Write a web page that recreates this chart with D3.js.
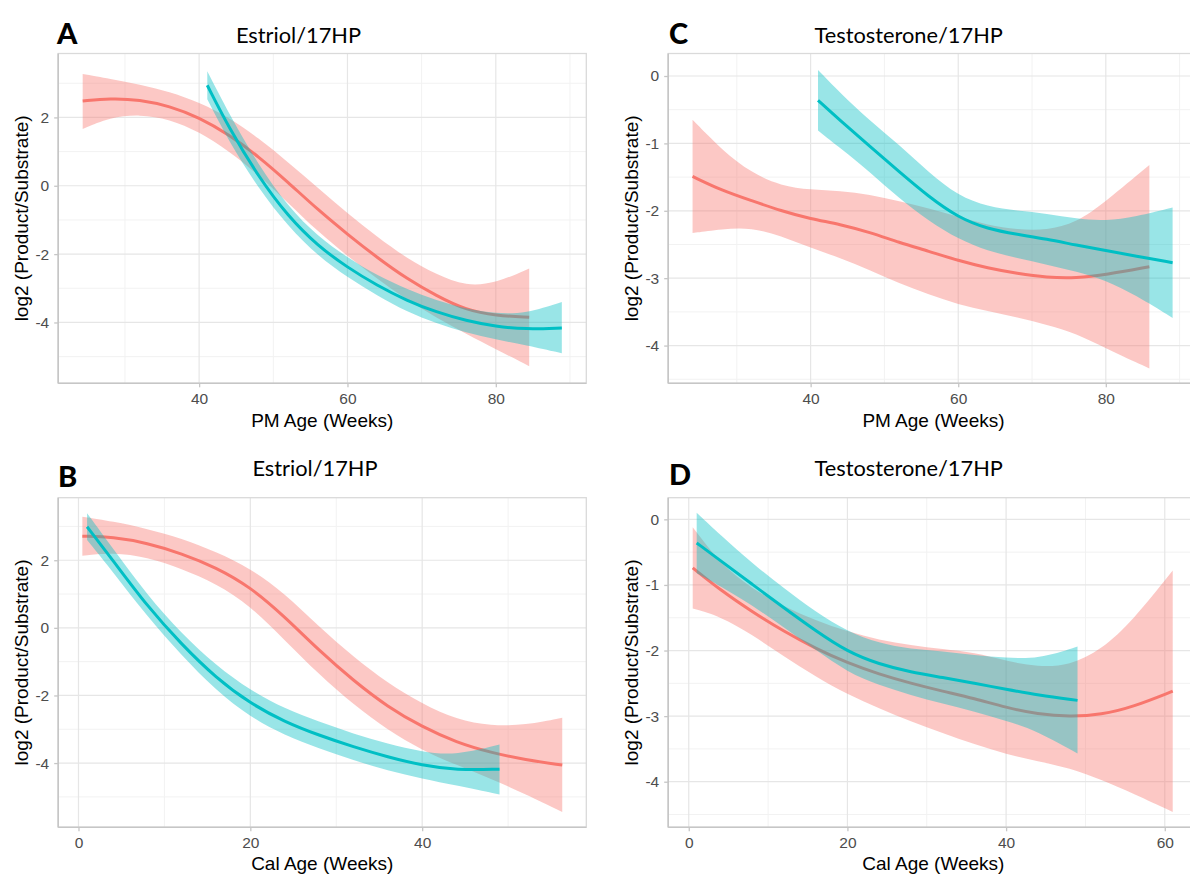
<!DOCTYPE html>
<html>
<head>
<meta charset="utf-8">
<script src="https://cdn.jsdelivr.net/npm/d3@7"></script>
<style>
	body { margin: 0; background: #ffffff; }
	svg { display: block; }
</style>
</head>
<body>
<div id="chart"></div>
<script>

// ---- panel A : Estriol/17HP vs PM age
const aRedX  = [24.3, 28, 32, 36, 40, 44, 48, 52, 56, 60, 64, 68, 72, 76, 80, 84.5];
const aRedY  = [2.48, 2.56, 2.52, 2.33, 2.0, 1.5, 0.86, 0.1, -0.7, -1.42, -2.1, -2.72, -3.22, -3.64, -3.8, -3.85];
const aRedHi = [3.27, 3.13, 2.96, 2.75, 2.44, 2.0, 1.4, 0.69, -0.06, -0.8, -1.5, -2.12, -2.6, -2.94, -2.85, -2.42];
const aRedLo = [1.66, 2.0, 2.09, 1.95, 1.58, 1.02, 0.32, -0.5, -1.34, -2.06, -2.72, -3.34, -3.86, -4.34, -4.78, -5.28];

const aTealX  = [41.1, 44, 48, 52, 56, 60, 64, 68, 72, 76, 80, 84, 88.9];
const aTealY  = [2.94, 1.7, 0.26, -0.9, -1.76, -2.39, -2.92, -3.36, -3.7, -3.95, -4.12, -4.2, -4.16];
const aTealHi = [3.35, 2.12, 0.6, -0.61, -1.48, -2.1, -2.63, -3.02, -3.36, -3.6, -3.74, -3.74, -3.4];
const aTealLo = [2.53, 1.3, -0.08, -1.19, -2.05, -2.68, -3.21, -3.69, -4.03, -4.3, -4.5, -4.66, -4.9];

// ---- panel B : Estriol/17HP vs Cal age
const bRedX  = [0.45, 4, 8, 12, 16, 20, 24, 28, 32, 36, 40, 44, 48, 52, 56.3];
const bRedY  = [2.71, 2.69, 2.51, 2.2, 1.79, 1.21, 0.33, -0.67, -1.56, -2.34, -2.93, -3.39, -3.69, -3.9, -4.06];
const bRedHi = [3.29, 3.15, 2.93, 2.65, 2.25, 1.76, 1.02, 0.03, -0.86, -1.64, -2.24, -2.72, -2.9, -2.88, -2.66];
const bRedLo = [2.13, 2.23, 2.09, 1.75, 1.31, 0.66, -0.37, -1.38, -2.27, -3.03, -3.62, -4.06, -4.46, -4.92, -5.45];

const bTealX  = [1, 4, 8, 12, 16, 20, 24, 28, 32, 36, 40, 44, 49];
const bTealY  = [2.99, 2.0, 0.64, -0.49, -1.48, -2.24, -2.78, -3.18, -3.52, -3.82, -4.07, -4.21, -4.18];
const bTealHi = [3.39, 2.35, 0.97, -0.17, -1.11, -1.85, -2.39, -2.78, -3.13, -3.43, -3.67, -3.77, -3.45];
const bTealLo = [2.6, 1.66, 0.33, -0.81, -1.85, -2.64, -3.18, -3.57, -3.92, -4.22, -4.46, -4.66, -4.93];

// ---- panel C : Testosterone/17HP vs PM age
const cRedX  = [24, 28, 32, 36, 40, 44, 48, 52, 56, 60, 64, 68, 72, 76, 80, 85.9];
const cRedY  = [-1.49, -1.7, -1.85, -2.0, -2.12, -2.2, -2.32, -2.47, -2.6, -2.74, -2.85, -2.93, -2.99, -3.0, -2.95, -2.83];
const cRedHi = [-0.65, -1.1, -1.44, -1.63, -1.69, -1.7, -1.76, -1.86, -1.96, -2.09, -2.21, -2.28, -2.29, -2.18, -1.86, -1.32];
const cRedLo = [-2.33, -2.27, -2.25, -2.37, -2.55, -2.7, -2.88, -3.08, -3.24, -3.39, -3.49, -3.58, -3.69, -3.82, -4.04, -4.34];

const cTealX  = [41, 44, 48, 52, 56, 60, 64, 68, 72, 76, 80, 84, 89.05];
const cTealY  = [-0.36, -0.66, -1.04, -1.42, -1.79, -2.1, -2.27, -2.35, -2.42, -2.51, -2.59, -2.67, -2.77];
const cTealHi = [0.09, -0.25, -0.66, -1.02, -1.43, -1.78, -1.94, -2.0, -2.04, -2.12, -2.15, -2.09, -1.95];
const cTealLo = [-0.81, -1.07, -1.42, -1.82, -2.15, -2.42, -2.6, -2.7, -2.8, -2.9, -3.03, -3.25, -3.59];

// ---- panel D : Testosterone/17HP vs Cal age
const dRedX  = [0.5, 4, 8, 12, 16, 20, 24, 28, 32, 36, 40, 44, 48, 52, 56, 61];
const dRedY  = [-0.74, -1.08, -1.41, -1.71, -1.97, -2.19, -2.36, -2.5, -2.62, -2.73, -2.87, -2.97, -3.01, -2.98, -2.86, -2.62];
const dRedHi = [-0.12, -0.68, -1.06, -1.33, -1.54, -1.71, -1.84, -1.92, -1.98, -2.03, -2.16, -2.25, -2.23, -1.99, -1.54, -0.78];
const dRedLo = [-1.36, -1.48, -1.76, -2.09, -2.4, -2.67, -2.88, -3.08, -3.26, -3.43, -3.58, -3.69, -3.79, -3.97, -4.18, -4.46];

const dTealX  = [1, 4, 8, 12, 16, 20, 24, 28, 32, 36, 40, 44, 49];
const dTealY  = [-0.36, -0.63, -0.99, -1.35, -1.7, -2.02, -2.21, -2.33, -2.41, -2.5, -2.59, -2.68, -2.76];
const dTealHi = [0.1, -0.24, -0.67, -1.05, -1.41, -1.71, -1.89, -1.98, -2.01, -2.07, -2.11, -2.13, -1.94];
const dTealLo = [-0.82, -1.02, -1.31, -1.65, -1.99, -2.33, -2.53, -2.68, -2.81, -2.93, -3.07, -3.23, -3.57];

// ---- labels, ticks, axis limits
const letters  = ['A', 'B', 'C', 'D'];
const titles   = ['Estriol/17HP', 'Estriol/17HP', 'Testosterone/17HP', 'Testosterone/17HP'];
const xLabels  = ['PM Age (Weeks)', 'Cal Age (Weeks)', 'PM Age (Weeks)', 'Cal Age (Weeks)'];
const yLabel   = 'log2 (Product/Substrate)';

const xTicksA = [40, 60, 80];
const xTicksB = [0, 20, 40];
const xTicksC = [40, 60, 80];
const xTicksD = [0, 20, 40, 60];
const yTicksA = [2, 0, -2, -4];
const yTicksB = [2, 0, -2, -4];
const yTicksC = [0, -1, -2, -3, -4];
const yTicksD = [0, -1, -2, -3, -4];

const xLimA = [21.0, 92.2];
const xLimB = [-2.36, 59.1];
const xLimC = [20.7, 92.6];
const xLimD = [-2.59, 64.25];
const yLimA = [-5.78, 3.87];
const yLimB = [-5.9, 3.85];
const yLimC = [-4.56, 0.334];
const yLimD = [-4.695, 0.33];

const RED = '#F8766D';
const TEAL = '#00BFC4';

function series(x, y, lo, hi, color)
{
	return { color: color, rows: x.map((d, i) => ({ x: d, y: y[i], lo: lo[i], hi: hi[i] })) };
}

// pixel boxes of the four panels (left, top, right, bottom) and where their texts sit
const panels = [
	{ box: [58.2, 53.5, 586.3, 383.3], titleX: 298.5, titleY: 43, letterX: 57, letterY: 44, yLabX: 28,
		xTicks: xTicksA, yTicks: yTicksA, xLim: xLimA, yLim: yLimA,
		data: [series(aRedX, aRedY, aRedLo, aRedHi, RED), series(aTealX, aTealY, aTealLo, aTealHi, TEAL)] },
	{ box: [58.2, 497.7, 586.3, 827.3], titleX: 315, titleY: 476, letterX: 58, letterY: 487, yLabX: 28,
		xTicks: xTicksB, yTicks: yTicksB, xLim: xLimB, yLim: yLimB,
		data: [series(bRedX, bRedY, bRedLo, bRedHi, RED), series(bTealX, bTealY, bTealLo, bTealHi, TEAL)] },
	{ box: [668.2, 53.5, 1198.8, 383.3], titleX: 908.7, titleY: 43, letterX: 669, letterY: 44, yLabX: 638,
		xTicks: xTicksC, yTicks: yTicksC, xLim: xLimC, yLim: yLimC,
		data: [series(cRedX, cRedY, cRedLo, cRedHi, RED), series(cTealX, cTealY, cTealLo, cTealHi, TEAL)] },
	{ box: [668.2, 497.7, 1198.5, 827.3], titleX: 908.7, titleY: 476, letterX: 669, letterY: 485, yLabX: 638,
		xTicks: xTicksD, yTicks: yTicksD, xLim: xLimD, yLim: yLimD,
		data: [series(dRedX, dRedY, dRedLo, dRedHi, RED), series(dTealX, dTealY, dTealLo, dTealHi, TEAL)] }
];

const svg = d3.select('#chart').append('svg')
	.attr('width', 1190)
	.attr('height', 878);

// midpoints between major breaks, the way ggplot places its minor grid
function minorBreaks(ticks, lim)
{
	let t = ticks.slice().sort((a, b) => a - b);
	let step = t[1] - t[0];
	let out = [];
	for(let v = t[0] - step / 2; v <= t[t.length - 1] + step; v += step)
	{
		if(v >= lim[0] && v <= lim[1])
			out.push(v);
	}
	return out;
}

panels.forEach((p, k) => {
	let [x0, y0, x1, y1] = p.box;

	let x = d3.scaleLinear().domain(p.xLim).range([x0, x1]);
	let y = d3.scaleLinear().domain(p.yLim).range([y1, y0]);

	let g = svg.append('g');

	g.append('clipPath')
		.attr('id', 'clip' + k)
		.append('rect')
		.attr('x', x0)
		.attr('y', y0)
		.attr('width', x1 - x0)
		.attr('height', y1 - y0);

	// minor grid
	g.selectAll('.vminor')
		.data(minorBreaks(p.xTicks, p.xLim))
		.enter()
		.append('line')
		.attr('x1', d => x(d)).attr('x2', d => x(d))
		.attr('y1', y0).attr('y2', y1)
		.attr('stroke', '#f2f2f2')
		.attr('stroke-width', 1);

	g.selectAll('.hminor')
		.data(minorBreaks(p.yTicks, p.yLim))
		.enter()
		.append('line')
		.attr('x1', x0).attr('x2', x1)
		.attr('y1', d => y(d)).attr('y2', d => y(d))
		.attr('stroke', '#f2f2f2')
		.attr('stroke-width', 1);

	// major grid
	g.selectAll('.vmajor')
		.data(p.xTicks)
		.enter()
		.append('line')
		.attr('x1', d => x(d)).attr('x2', d => x(d))
		.attr('y1', y0).attr('y2', y1)
		.attr('stroke', '#e6e6e6')
		.attr('stroke-width', 1.2);

	g.selectAll('.hmajor')
		.data(p.yTicks)
		.enter()
		.append('line')
		.attr('x1', x0).attr('x2', x1)
		.attr('y1', d => y(d)).attr('y2', d => y(d))
		.attr('stroke', '#e6e6e6')
		.attr('stroke-width', 1.2);

	let plot = g.append('g')
		.attr('clip-path', 'url(#clip' + k + ')');

	let area = d3.area()
		.curve(d3.curveBasis)
		.x(d => x(d.x))
		.y0(d => y(d.lo))
		.y1(d => y(d.hi));

	let line = d3.line()
		.curve(d3.curveBasis)
		.x(d => x(d.x))
		.y(d => y(d.y));

	// ribbon then line for each group, same order as geom_smooth
	p.data.forEach(s => {
		plot.append('path')
			.attr('d', area(s.rows))
			.attr('fill', s.color)
			.attr('fill-opacity', 0.4);

		plot.append('path')
			.attr('d', line(s.rows))
			.attr('fill', 'none')
			.attr('stroke', s.color)
			.attr('stroke-width', 3);
	});

	// panel border and axis lines
	g.append('rect')
		.attr('x', x0)
		.attr('y', y0)
		.attr('width', x1 - x0)
		.attr('height', y1 - y0)
		.attr('fill', 'none')
		.attr('stroke', '#dadada')
		.attr('stroke-width', 1.3);

	g.append('line')
		.attr('x1', x0).attr('x2', x0)
		.attr('y1', y0).attr('y2', y1)
		.attr('stroke', '#c6c6c6')
		.attr('stroke-width', 1.6);

	g.append('line')
		.attr('x1', x0).attr('x2', x1)
		.attr('y1', y1).attr('y2', y1)
		.attr('stroke', '#c6c6c6')
		.attr('stroke-width', 1.6);

	// axes
	let xAxis = d3.axisBottom(x)
		.tickValues(p.xTicks)
		.tickSize(4)
		.tickPadding(6)
		.tickFormat(d3.format('d'));

	let yAxis = d3.axisLeft(y)
		.tickValues(p.yTicks)
		.tickSize(4)
		.tickPadding(5)
		.tickFormat(d => d < 0 ? '-' + Math.abs(d) : d);

	let gx = g.append('g')
		.attr('transform', `translate(0, ${y1})`)
		.call(xAxis);

	let gy = g.append('g')
		.attr('transform', `translate(${x0}, 0)`)
		.call(yAxis);

	[gx, gy].forEach(a => {
		a.select('.domain').remove();
		a.selectAll('line')
			.attr('stroke', '#c6c6c6')
			.attr('stroke-width', 1.3);
		a.selectAll('text')
			.attr('fill', '#4d4d4d')
			.style('font-family', '"Liberation Sans", Arial, sans-serif')
			.style('font-size', '15.5px');
	});

	// texts
	g.append('text')
		.attr('x', p.letterX)
		.attr('y', p.letterY)
		.style('font-family', 'Lato, "Open Sans", sans-serif')
		.style('font-weight', 900)
		.style('font-size', '29px')
		.attr('fill', '#000000')
		.text(letters[k]);

	g.append('text')
		.attr('x', p.titleX)
		.attr('y', p.titleY)
		.attr('text-anchor', 'middle')
		.style('font-family', 'Lato, "Open Sans", sans-serif')
		.style('font-size', '21.8px')
		.attr('fill', '#000000')
		.text(titles[k]);

	g.append('text')
		.attr('x', (x0 + x1) / 2)
		.attr('y', k % 2 == 0 ? 426.5 : 870)
		.attr('text-anchor', 'middle')
		.style('font-family', '"Liberation Sans", Arial, sans-serif')
		.style('font-size', '19px')
		.attr('fill', '#000000')
		.text(xLabels[k]);

	g.append('text')
		.attr('transform', `translate(${p.yLabX}, ${(y0 + y1) / 2}) rotate(-90)`)
		.attr('text-anchor', 'middle')
		.style('font-family', '"Liberation Sans", Arial, sans-serif')
		.style('font-size', '19px')
		.attr('fill', '#000000')
		.text(yLabel);
});

</script>
</body>
</html>
